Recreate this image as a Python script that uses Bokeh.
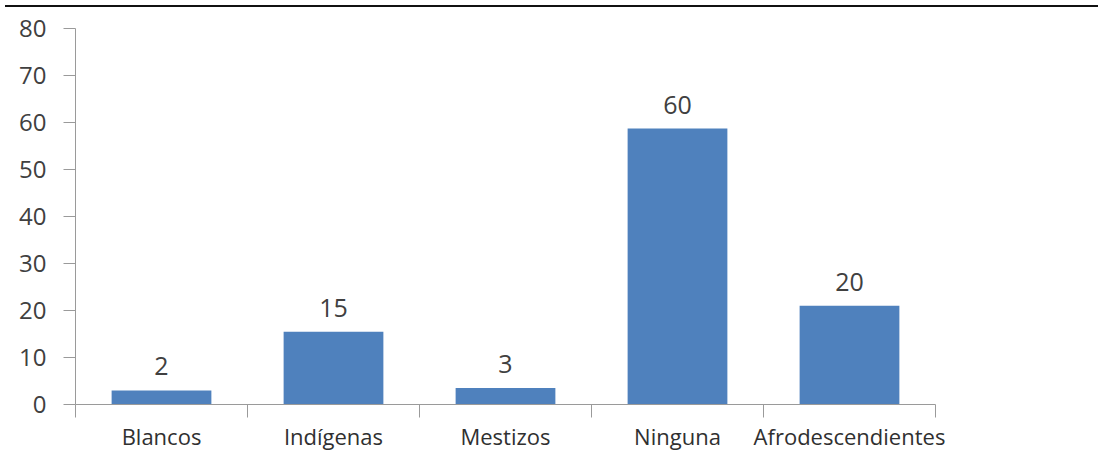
from bokeh.plotting import figure
from bokeh.models import ColumnDataSource, FixedTicker, Range1d, Div
from bokeh.layouts import column
from bokeh.embed import file_html
from bokeh.resources import INLINE
from bokeh.core.properties import value

categories = ["Blancos", "Indígenas", "Mestizos", "Ninguna", "Afrodescendientes"]
bar_values = [3, 15.5, 3.5, 58.7, 21]
bar_labels = ["2", "15", "3", "60", "20"]
y_ticks = [0, 10, 20, 30, 40, 50, 60, 70, 80]

xs = [i + 0.5 for i in range(len(categories))]
src = ColumnDataSource(dict(x=xs, top=bar_values, lab=bar_labels))

FONT = "Open Sans"
TXT = "#404040"
AX = "#9a9a9a"

p = figure(width=1093, height=441, output_backend="svg", toolbar_location=None,
           x_range=Range1d(0, len(categories)), y_range=Range1d(0, 83.4),
           min_border_left=75, min_border_right=158, min_border_top=0,
           min_border_bottom=47)
p.outline_line_color = None
p.grid.grid_line_color = None

p.vbar(x="x", top="top", width=0.58, bottom=0, source=src,
       fill_color="#4F81BD", line_color=None)
p.text(x="x", y="top", text="lab", source=src, text_align="center",
       text_baseline="alphabetic", y_offset=-24, text_font=value(FONT),
       text_font_size="25px", text_color=TXT)

p.yaxis.ticker = FixedTicker(ticks=y_ticks, minor_ticks=[])
p.yaxis.bounds = (0, 80)
p.yaxis.major_label_text_font = FONT
p.yaxis.major_label_text_font_size = "24px"
p.yaxis.major_label_text_color = TXT
p.yaxis.axis_line_color = AX
p.yaxis.major_tick_line_color = AX
p.yaxis.major_tick_out = 12
p.yaxis.major_tick_in = 0
p.yaxis.minor_tick_line_color = None
p.yaxis.major_label_standoff = 17

p.xaxis.ticker = FixedTicker(ticks=xs, minor_ticks=list(range(len(categories) + 1)))
p.xaxis.major_label_overrides = {x: c for x, c in zip(xs, categories)}
p.xaxis.major_label_text_font = FONT
p.xaxis.major_label_text_font_size = "22px"
p.xaxis.major_label_text_color = "#303030"
p.xaxis.major_tick_line_color = None
p.xaxis.major_tick_out = 0
p.xaxis.major_tick_in = 0
p.xaxis.minor_tick_line_color = AX
p.xaxis.minor_tick_out = 13
p.xaxis.minor_tick_in = 0
p.xaxis.axis_line_color = AX
p.xaxis.major_label_standoff = 3

top_rule = Div(text="", width=1093, height=2,
               styles={"border-top": "2px solid #111", "width": "1093px"})

layout = column(top_rule, p, spacing=0)
open("out.html", "w").write(file_html(layout, INLINE))
